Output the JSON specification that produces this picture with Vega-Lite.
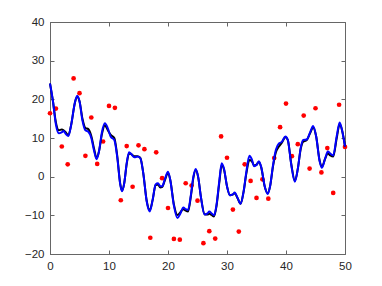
{
  "$schema": "https://vega.github.io/schema/vega-lite/v6.json",
  "width": 295,
  "height": 232,
  "autosize": "none",
  "padding": {"left": 50, "top": 22, "right": 37, "bottom": 32},
  "background": "white",
  "config": {
    "view": {"stroke": "#666", "strokeWidth": 1},
    "axis": {
      "grid": false,
      "domainColor": "#666",
      "tickColor": "#666",
      "tickSize": -4,
      "labelColor": "#262626",
      "labelFont": "Liberation Sans",
      "labelFontSize": 11.5,
      "labelFlush": false,
      "labelOverlap": false,
      "title": null
    }
  },
  "datasets": {
    "pts": [
      {"x":0,"y":16.4},{"x":1,"y":17.6},{"x":2,"y":7.8},{"x":3,"y":3.2},{"x":4,"y":25.4},{"x":5,"y":21.6},
      {"x":6,"y":5.4},{"x":7,"y":15.3},{"x":8,"y":3.3},{"x":9,"y":9.1},{"x":10,"y":18.3},{"x":11,"y":17.8},
      {"x":12,"y":-6.1},{"x":13,"y":7.9},{"x":14,"y":-2.6},{"x":15,"y":8.1},{"x":16,"y":7.1},{"x":17,"y":-15.8},
      {"x":18,"y":6.3},{"x":19,"y":-0.4},{"x":20,"y":-8.1},{"x":21,"y":-16.1},{"x":22,"y":-16.3},{"x":23,"y":-1.7},
      {"x":24,"y":-2.3},{"x":25,"y":-6.2},{"x":26,"y":-17.2},{"x":27,"y":-14.1},{"x":28,"y":-16.0},{"x":29,"y":10.4},
      {"x":30,"y":4.9},{"x":31,"y":-8.5},{"x":32,"y":-14.2},{"x":33,"y":3.2},{"x":34,"y":-1.1},{"x":35,"y":-5.5},
      {"x":36,"y":-0.7},{"x":37,"y":-5.7},{"x":38,"y":4.8},{"x":39,"y":12.8},{"x":40,"y":18.9},{"x":41,"y":5.3},
      {"x":42,"y":8.4},{"x":43,"y":15.8},{"x":44,"y":2.1},{"x":45,"y":17.7},{"x":46,"y":1.1},{"x":47,"y":7.4},
      {"x":48,"y":-4.2},{"x":49,"y":18.6},{"x":50,"y":7.7}
    ],
    "black": [
      {"x":0,"y":24.1},{"x":0.5,"y":19.5},{"x":1.0,"y":14.0},{"x":1.5,"y":12.0},{"x":2.0,"y":12.2},{"x":2.3,"y":12.0},
      {"x":2.7,"y":11.4},{"x":3.1,"y":10.7},{"x":3.6,"y":13.5},{"x":4.2,"y":19.0},{"x":4.6,"y":20.7},{"x":5.0,"y":19.5},
      {"x":5.5,"y":15.0},{"x":6.0,"y":12.6},{"x":6.5,"y":12.3},{"x":7.0,"y":10.5},{"x":7.5,"y":7.0},{"x":7.9,"y":4.8},
      {"x":8.3,"y":6.5},{"x":8.8,"y":11.0},{"x":9.3,"y":13.3},{"x":9.8,"y":12.0},{"x":10.3,"y":10.8},{"x":10.9,"y":10.0},
      {"x":11.4,"y":5.3},{"x":11.9,"y":-1.8},{"x":12.2,"y":-3.6},{"x":12.6,"y":-1.5},{"x":13.0,"y":3.3},{"x":13.4,"y":6.0},
      {"x":13.8,"y":5.8},{"x":14.3,"y":5.3},{"x":14.8,"y":5.3},{"x":15.3,"y":4.9},{"x":15.8,"y":1.0},{"x":16.4,"y":-6.3},
      {"x":16.9,"y":-8.7},{"x":17.4,"y":-6.0},{"x":17.9,"y":-2.2},{"x":18.3,"y":-2.0},{"x":18.7,"y":-2.8},{"x":19.0,"y":-2.7},
      {"x":19.5,"y":-0.8},{"x":20.0,"y":1.0},{"x":20.4,"y":-1.0},{"x":21.0,"y":-7.2},{"x":21.6,"y":-9.9},{"x":22.1,"y":-9.2},
      {"x":22.6,"y":-8.4},{"x":23.0,"y":-8.8},{"x":23.4,"y":-9.0},{"x":23.9,"y":-4.8},{"x":24.3,"y":-0.3},{"x":24.7,"y":1.7},
      {"x":25.1,"y":0.0},{"x":25.6,"y":-5.5},{"x":26.2,"y":-9.7},{"x":26.7,"y":-9.8},{"x":27.0,"y":-9.6},{"x":27.4,"y":-9.9},
      {"x":27.8,"y":-10.3},{"x":28.2,"y":-7.8},{"x":28.7,"y":-1.5},{"x":29.1,"y":3.0},{"x":29.5,"y":1.8},{"x":30.0,"y":-2.5},
      {"x":30.5,"y":-4.8},{"x":31.0,"y":-4.6},{"x":31.3,"y":-4.3},{"x":31.8,"y":-5.6},{"x":32.3,"y":-7.0},{"x":32.8,"y":-4.0},
      {"x":33.3,"y":1.0},{"x":33.8,"y":4.3},{"x":34.2,"y":4.0},{"x":34.6,"y":2.9},{"x":35.0,"y":3.1},{"x":35.4,"y":3.8},
      {"x":35.8,"y":2.4},{"x":36.4,"y":-2.6},{"x":36.9,"y":-4.3},{"x":37.3,"y":-2.5},{"x":37.8,"y":2.7},{"x":38.3,"y":6.4},
      {"x":38.8,"y":7.8},{"x":39.3,"y":8.8},{"x":39.9,"y":10.2},{"x":40.3,"y":9.5},{"x":40.9,"y":3.2},{"x":41.5,"y":-1.1},
      {"x":42.0,"y":2.0},{"x":42.5,"y":7.2},{"x":42.9,"y":9.0},{"x":43.5,"y":9.4},{"x":44.1,"y":11.3},{"x":44.6,"y":12.7},
      {"x":45.1,"y":10.5},{"x":45.7,"y":4.2},{"x":46.1,"y":2.6},{"x":46.6,"y":4.5},{"x":47.1,"y":6.0},{"x":47.5,"y":5.5},
      {"x":48.0,"y":5.2},{"x":48.6,"y":10.0},{"x":49.1,"y":13.6},{"x":49.5,"y":12.0},{"x":50.0,"y":7.8}
    ],
    "blue": [
      {"x":0,"y":24.1},{"x":0.5,"y":19.5},{"x":1.0,"y":13.5},{"x":1.5,"y":11.2},{"x":2.0,"y":11.5},{"x":2.3,"y":11.8},
      {"x":2.7,"y":11.0},{"x":3.1,"y":10.5},{"x":3.6,"y":13.5},{"x":4.2,"y":19.0},{"x":4.6,"y":20.9},{"x":5.0,"y":19.5},
      {"x":5.5,"y":14.5},{"x":6.0,"y":12.0},{"x":6.5,"y":11.6},{"x":7.0,"y":10.0},{"x":7.5,"y":6.5},{"x":7.9,"y":4.5},
      {"x":8.3,"y":6.5},{"x":8.8,"y":11.5},{"x":9.3,"y":13.8},{"x":9.8,"y":12.5},{"x":10.3,"y":10.3},{"x":10.9,"y":9.5},
      {"x":11.4,"y":5.0},{"x":11.9,"y":-2.0},{"x":12.2,"y":-3.8},{"x":12.6,"y":-1.5},{"x":13.0,"y":3.5},{"x":13.4,"y":6.3},
      {"x":13.8,"y":5.8},{"x":14.3,"y":5.0},{"x":14.8,"y":5.2},{"x":15.3,"y":4.8},{"x":15.8,"y":1.0},{"x":16.4,"y":-6.5},
      {"x":16.9,"y":-9.0},{"x":17.4,"y":-6.0},{"x":17.9,"y":-2.0},{"x":18.3,"y":-1.7},{"x":18.7,"y":-2.5},{"x":19.0,"y":-2.5},
      {"x":19.5,"y":-0.5},{"x":20.0,"y":1.3},{"x":20.4,"y":-1.0},{"x":21.0,"y":-7.5},{"x":21.6,"y":-10.7},{"x":22.1,"y":-9.5},
      {"x":22.6,"y":-8.0},{"x":23.0,"y":-8.4},{"x":23.4,"y":-8.6},{"x":23.9,"y":-4.5},{"x":24.3,"y":0.0},{"x":24.7,"y":2.0},
      {"x":25.1,"y":0.0},{"x":25.6,"y":-5.5},{"x":26.2,"y":-9.8},{"x":26.7,"y":-9.5},{"x":27.0,"y":-9.0},{"x":27.4,"y":-9.5},
      {"x":27.8,"y":-10.0},{"x":28.2,"y":-7.5},{"x":28.7,"y":-1.0},{"x":29.1,"y":3.5},{"x":29.5,"y":2.0},{"x":30.0,"y":-2.5},
      {"x":30.5,"y":-4.8},{"x":31.0,"y":-4.6},{"x":31.3,"y":-4.1},{"x":31.8,"y":-5.5},{"x":32.3,"y":-7.0},{"x":32.8,"y":-4.0},
      {"x":33.3,"y":1.5},{"x":33.8,"y":5.4},{"x":34.2,"y":4.5},{"x":34.6,"y":2.7},{"x":35.0,"y":3.0},{"x":35.4,"y":4.0},
      {"x":35.8,"y":2.5},{"x":36.4,"y":-2.5},{"x":36.9,"y":-4.5},{"x":37.3,"y":-2.5},{"x":37.8,"y":3.0},{"x":38.3,"y":7.0},
      {"x":38.8,"y":8.6},{"x":39.3,"y":9.0},{"x":39.9,"y":10.4},{"x":40.3,"y":9.5},{"x":40.9,"y":3.0},{"x":41.5,"y":-1.3},
      {"x":42.0,"y":2.0},{"x":42.5,"y":7.5},{"x":42.9,"y":9.5},{"x":43.5,"y":9.6},{"x":44.1,"y":11.5},{"x":44.6,"y":13.1},
      {"x":45.1,"y":10.5},{"x":45.7,"y":4.0},{"x":46.1,"y":2.3},{"x":46.6,"y":4.5},{"x":47.1,"y":6.5},{"x":47.5,"y":6.0},
      {"x":48.0,"y":5.5},{"x":48.6,"y":10.5},{"x":49.1,"y":14.0},{"x":49.5,"y":12.0},{"x":50.0,"y":7.8}
    ]
  },
  "layer": [
    {
      "data": {"name": "pts"},
      "mark": {"type": "point", "filled": true, "color": "#ff0000", "opacity": 1, "size": 22},
      "encoding": {
        "x": {"field": "x", "type": "quantitative", "scale": {"domain": [0, 50], "nice": false}, "axis": {"values": [0,10,20,30,40,50], "labelPadding": 10}},
        "y": {"field": "y", "type": "quantitative", "scale": {"domain": [-20, 40], "nice": false}, "axis": {"values": [-20,-10,0,10,20,30,40], "labelPadding": 10}}
      }
    },
    {
      "data": {"name": "black"},
      "mark": {"type": "line", "color": "#000000", "strokeWidth": 2, "interpolate": "monotone"},
      "encoding": {
        "x": {"field": "x", "type": "quantitative", "axis": {"orient": "top", "values": [0,10,20,30,40,50], "labels": false, "domain": false}},
        "y": {"field": "y", "type": "quantitative", "axis": {"orient": "right", "values": [-20,-10,0,10,20,30,40], "labels": false, "domain": false}}
      }
    },
    {
      "data": {"name": "blue"},
      "mark": {"type": "line", "color": "#0000ff", "strokeWidth": 2, "interpolate": "monotone"},
      "encoding": {
        "x": {"field": "x", "type": "quantitative", "axis": null},
        "y": {"field": "y", "type": "quantitative", "axis": null}
      }
    }
  ],
  "resolve": {"axis": {"x": "independent", "y": "independent"}}
}
